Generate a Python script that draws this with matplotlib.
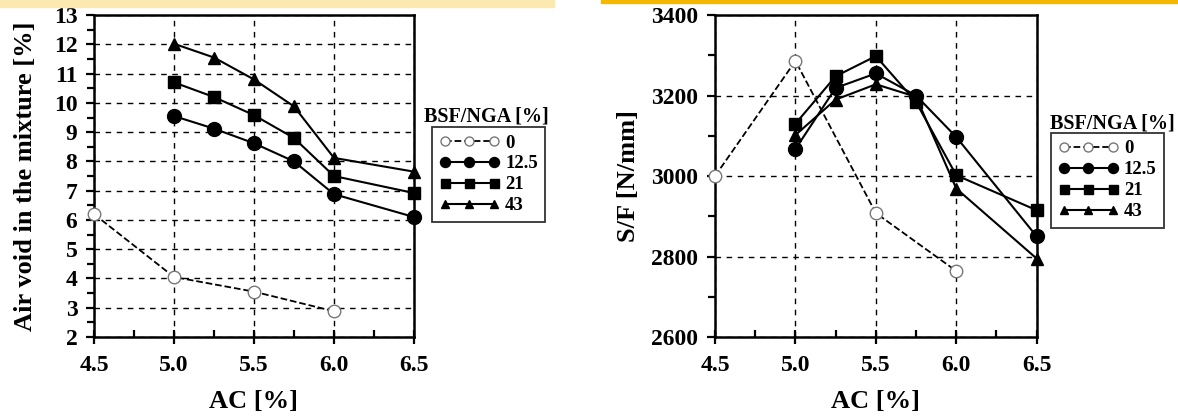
import numpy as np
import matplotlib.pyplot as plt
from matplotlib.ticker import MultipleLocator
from matplotlib.patches import Rectangle

plt.rcParams['font.family'] = ['Liberation Serif', 'DejaVu Serif']
plt.rcParams['font.weight'] = 'bold'

# Data
labels = ['0', '12.5', '21', '43']
ac_0 = [4.5, 5.0, 5.5, 6.0]
ac = [5.0, 5.25, 5.5, 5.75, 6.0, 6.5]

void_0 = [6.2, 4.05, 3.55, 2.88]
void_125 = [9.55, 9.12, 8.62, 8.0, 6.88, 6.1]
void_21 = [10.7, 10.2, 9.58, 8.8, 7.5, 6.92]
void_43 = [12.02, 11.55, 10.8, 9.88, 8.12, 7.65]

sf_0 = [3000, 3286, 2908, 2764]
sf_125 = [3067, 3219, 3255, 3200, 3097, 2850]
sf_21 = [3130, 3248, 3298, 3184, 3002, 2915]
sf_43 = [3102, 3190, 3228, 3197, 2969, 2795]

fig = plt.figure(figsize=(11.78, 4.19), dpi=100)

# thin yellow bands along the top edge
fig.patches.append(Rectangle((0, 0.983), 0.47, 0.017, transform=fig.transFigure,
                             color='#fbe9b0', zorder=0))
fig.patches.append(Rectangle((0.51, 0.992), 0.49, 0.008, transform=fig.transFigure,
                             color='#f5b800', zorder=0))

ax1 = fig.add_axes([0.0798, 0.1957, 0.2716, 0.7683])
ax2 = fig.add_axes([0.607, 0.1957, 0.273, 0.7683])


def draw(ax, y0, y1, y2, y3):
    h = []
    h += ax.plot(ac_0, y0, '--', color='black', lw=1.3, marker='o', ms=9,
                 mfc='white', mec='#777777', mew=1.0, zorder=3, clip_on=False)
    h += ax.plot(ac, y1, '-', color='black', lw=1.5, marker='o', ms=10, zorder=3,
                 clip_on=False)
    h += ax.plot(ac, y2, '-', color='black', lw=1.5, marker='s', ms=9, zorder=3,
                 clip_on=False)
    h += ax.plot(ac, y3, '-', color='black', lw=1.5, marker='^', ms=8, zorder=3,
                 clip_on=False)
    ax.set_xlim(4.5, 6.5)
    ax.xaxis.set_major_locator(MultipleLocator(0.5))
    ax.xaxis.set_minor_locator(MultipleLocator(0.25))
    ax.set_xticklabels([f'{v:.1f}' for v in ax.get_xticks()])
    ax.grid(True, which='major', ls=(0, (4, 4)), color='black', lw=1.0)
    for s in ax.spines.values():
        s.set_linewidth(1.8)
    ax.tick_params(axis='x', which='major', direction='inout', length=10,
                   width=1.6, labelsize=17, pad=8)
    ax.tick_params(axis='x', which='minor', direction='in', length=5, width=1.6)
    ax.tick_params(axis='y', which='major', direction='out', length=6,
                   width=1.6, labelsize=17, pad=6)
    ax.tick_params(axis='y', which='minor', direction='out', length=5, width=1.6)
    ax.set_xlabel('AC [%]', fontsize=19, fontweight='bold', labelpad=10)
    return h


h1 = draw(ax1, void_0, void_125, void_21, void_43)
ax1.set_ylim(2, 13)
ax1.yaxis.set_major_locator(MultipleLocator(1))
ax1.yaxis.set_minor_locator(MultipleLocator(0.5))
ax1.set_ylabel('Air void in the mixture [%]', fontsize=19, fontweight='bold',
               labelpad=12)

h2 = draw(ax2, sf_0, sf_125, sf_21, sf_43)
ax2.set_ylim(2600, 3400)
ax2.yaxis.set_major_locator(MultipleLocator(200))
ax2.yaxis.set_minor_locator(MultipleLocator(100))
ax2.set_ylabel('S/F [N/mm]', fontsize=19, fontweight='bold', labelpad=8)

for ax in (ax1, ax2):
    for lab in ax.get_xticklabels() + ax.get_yticklabels():
        lab.set_fontweight('bold')

leg_kw = dict(numpoints=3, fontsize=13.5, frameon=True, fancybox=False,
              edgecolor='black', handlelength=3.2, handletextpad=0.3,
              borderpad=0.4, labelspacing=0.2, loc='upper left',
              markerscale=0.72, borderaxespad=0,
              bbox_transform=fig.transFigure)
lg1 = fig.legend(h1, labels, bbox_to_anchor=(0.3667, 0.697), **leg_kw)
lg2 = fig.legend(h2, labels, bbox_to_anchor=(0.892, 0.683), **leg_kw)
for lg in (lg1, lg2):
    lg.get_frame().set_linewidth(1.3)
    for t in lg.get_texts():
        t.set_fontweight('bold')

fig.text(0.413, 0.721, 'BSF/NGA [%]', fontsize=14.5, fontweight='bold',
         ha='center', va='center')
fig.text(0.944, 0.706, 'BSF/NGA [%]', fontsize=14.5, fontweight='bold',
         ha='center', va='center')

fig.savefig('out.png', dpi=100)
